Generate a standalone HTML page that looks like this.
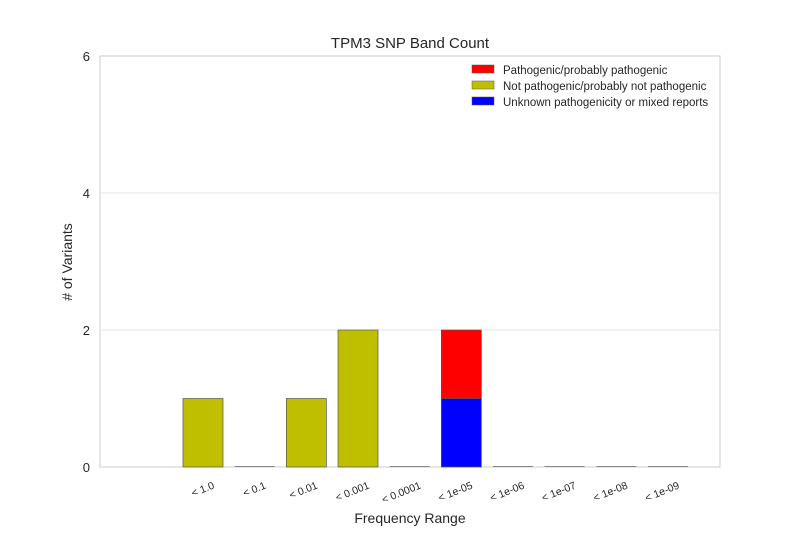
<!DOCTYPE html>
<html><head><meta charset="utf-8"><style>
body{margin:0;background:#fff}
text{font-family:"Liberation Sans",sans-serif;fill:#262626}
</style></head><body>
<svg width="800" height="550">
<rect x="100" y="56" width="620" height="411" fill="#fff" stroke="#ccc"/>
<g id="grid"></g>
<g id="bars"></g>
<g id="xt"></g>
<text x="410" y="48" text-anchor="middle" font-size="15">TPM3 SNP Band Count</text>
<text x="410" y="523" text-anchor="middle" font-size="14">Frequency Range</text>
<text transform="translate(72,262) rotate(-90)" text-anchor="middle" font-size="14">&#35; of Variants</text>
<g>
<rect x="472" y="65" width="22" height="8" fill="#ff0000" stroke="#555" stroke-width="0.5"/>
<text x="503" y="74" font-size="11.5">Pathogenic/probably pathogenic</text>
<rect x="472" y="81" width="22" height="8" fill="#bfbf00" stroke="#555" stroke-width="0.5"/>
<text x="503" y="90" font-size="11.5">Not pathogenic/probably not pathogenic</text>
<rect x="472" y="97" width="22" height="8" fill="#0000ff" stroke="#555" stroke-width="0.5"/>
<text x="503" y="106" font-size="11.5">Unknown pathogenicity or mixed reports</text>
</g>
</svg>
<script>
const categories=["< 1.0","< 0.1","< 0.01","< 0.001","< 0.0001","< 1e-05","< 1e-06","< 1e-07","< 1e-08","< 1e-09"];
const notPathogenic=[1,0,1,2,0,0,0,0,0,0];
const unknown=[0,0,0,0,0,1,0,0,0,0];
const pathogenic=[0,0,0,0,0,1,0,0,0,0];
const yTicks=[0,2,4,6];
const NS="http://www.w3.org/2000/svg";
function y(v){return 467-v*68.5;}
function xl(i){return 183+i*51.67;}
const bw=40;
function mk(t,a,p){const e=document.createElementNS(NS,t);for(const k in a)e.setAttribute(k,a[k]);p.appendChild(e);return e;}
const g=document.getElementById('grid');
yTicks.forEach(t=>{
 if(t>0&&t<6){const l=mk('line',{x1:100,x2:720,y1:y(t),y2:y(t),stroke:'#e6e6e6'},g);
 
 }
 const tx=mk('text',{x:90,y:y(t)+5,'text-anchor':'end','font-size':13},g);tx.textContent=t;
 
 
});
const b=document.getElementById('bars');
categories.forEach((c,i)=>{
 let base=0;
 [[notPathogenic,'#bfbf00'],[unknown,'#0000ff'],[pathogenic,'#ff0000']].forEach(([arr,col])=>{
  const v=arr[i];if(v<=0)return;
  const r=mk('rect',{x:xl(i),y:y(base+v),width:bw,height:y(base)-y(base+v),fill:col,stroke:'#555','stroke-width':0.7},b);
  
  
  base+=v;
 });
 if(base===0){const l=mk('line',{x1:xl(i),x2:xl(i)+bw,y1:466.5,y2:466.5,stroke:'#888','stroke-width':1},b);
  
  }
 const cx=xl(i)+bw/2+12;
 const t=mk('text',{x:cx,y:488,'text-anchor':'end','font-size':10.5,transform:`rotate(-22 ${cx} 488)`},document.getElementById('xt'));
 t.textContent=c;
 
 
});
</script>
</body></html>
